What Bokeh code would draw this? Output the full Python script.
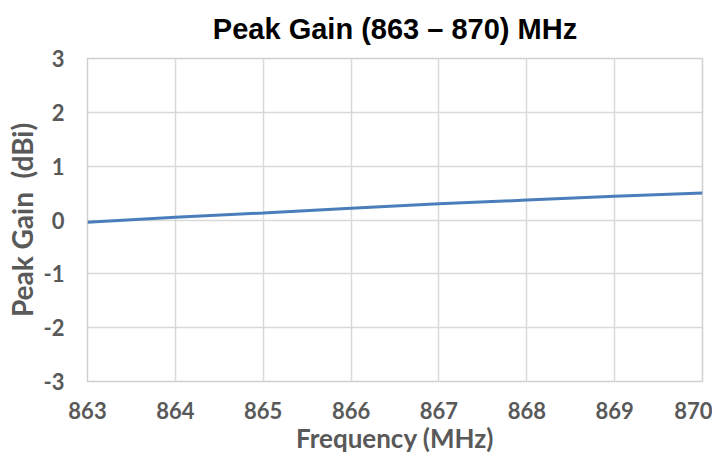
from bokeh.plotting import figure
from bokeh.models import Range1d, FixedTicker
from bokeh.embed import file_html
from bokeh.resources import INLINE

freq = [863, 864, 865, 866, 867, 868, 869, 870]
gain = [-0.04, 0.05, 0.13, 0.22, 0.30, 0.37, 0.44, 0.50]
x_ticks = [863, 864, 865, 866, 867, 868, 869, 870]
y_ticks = [-3, -2, -1, 0, 1, 2, 3]
y_tick_labels = ["-3", "-2", "-1", "0", "1", "2", "3"]

p = figure(width=712, height=460, output_backend="svg", toolbar_location=None,
           x_range=Range1d(863, 870), y_range=Range1d(-3, 3),
           title="Peak Gain (863 \u2013 870) MHz",
           min_border_left=87, min_border_right=10, min_border_top=56, min_border_bottom=79)

p.title.text_font = "Liberation Sans"
p.title.text_font_size = "29px"
p.title.text_font_style = "bold"
p.title.text_color = "#000000"
p.title.align = "center"
p.title.vertical_align = "top"
p.title.standoff = 24
p.title.text_line_height = 0.9

p.line(freq, gain, line_color="#4a7ebb", line_width=3)

for ax in (p.xaxis, p.yaxis):
    ax.axis_line_color = None
    ax.major_tick_line_color = None
    ax.minor_tick_line_color = None
    ax.major_label_text_font = "Lato"
    ax.major_label_text_font_style = "bold"
    ax.major_label_text_font_size = "22px"
    ax.major_label_text_color = "#595959"
    ax.axis_label_text_font = "Lato"
    ax.axis_label_text_font_style = "bold"
    ax.axis_label_text_color = "#595959"

p.xaxis.axis_label_text_font_size = "26px"
p.yaxis.axis_label_text_font_size = "28px"
p.xaxis.ticker = FixedTicker(ticks=x_ticks)
p.yaxis.ticker = FixedTicker(ticks=y_ticks)
p.yaxis.major_label_overrides = {t: s for t, s in zip(y_ticks, y_tick_labels)}
p.xaxis.axis_label = "Frequency (MHz)"
p.yaxis.axis_label = "Peak Gain\u00a0\u00a0(dBi)"
p.xaxis.major_label_standoff = 14
p.yaxis.major_label_standoff = 17
p.xaxis.axis_label_standoff = 0
p.yaxis.axis_label_standoff = 2

p.xgrid.grid_line_color = "#d9d9d9"
p.ygrid.grid_line_color = "#d9d9d9"
p.xgrid.grid_line_width = 1.5
p.ygrid.grid_line_width = 1.5
p.outline_line_color = "#d0d0d0"
p.outline_line_width = 1.5

open("out.html", "w").write(file_html(p, INLINE))
